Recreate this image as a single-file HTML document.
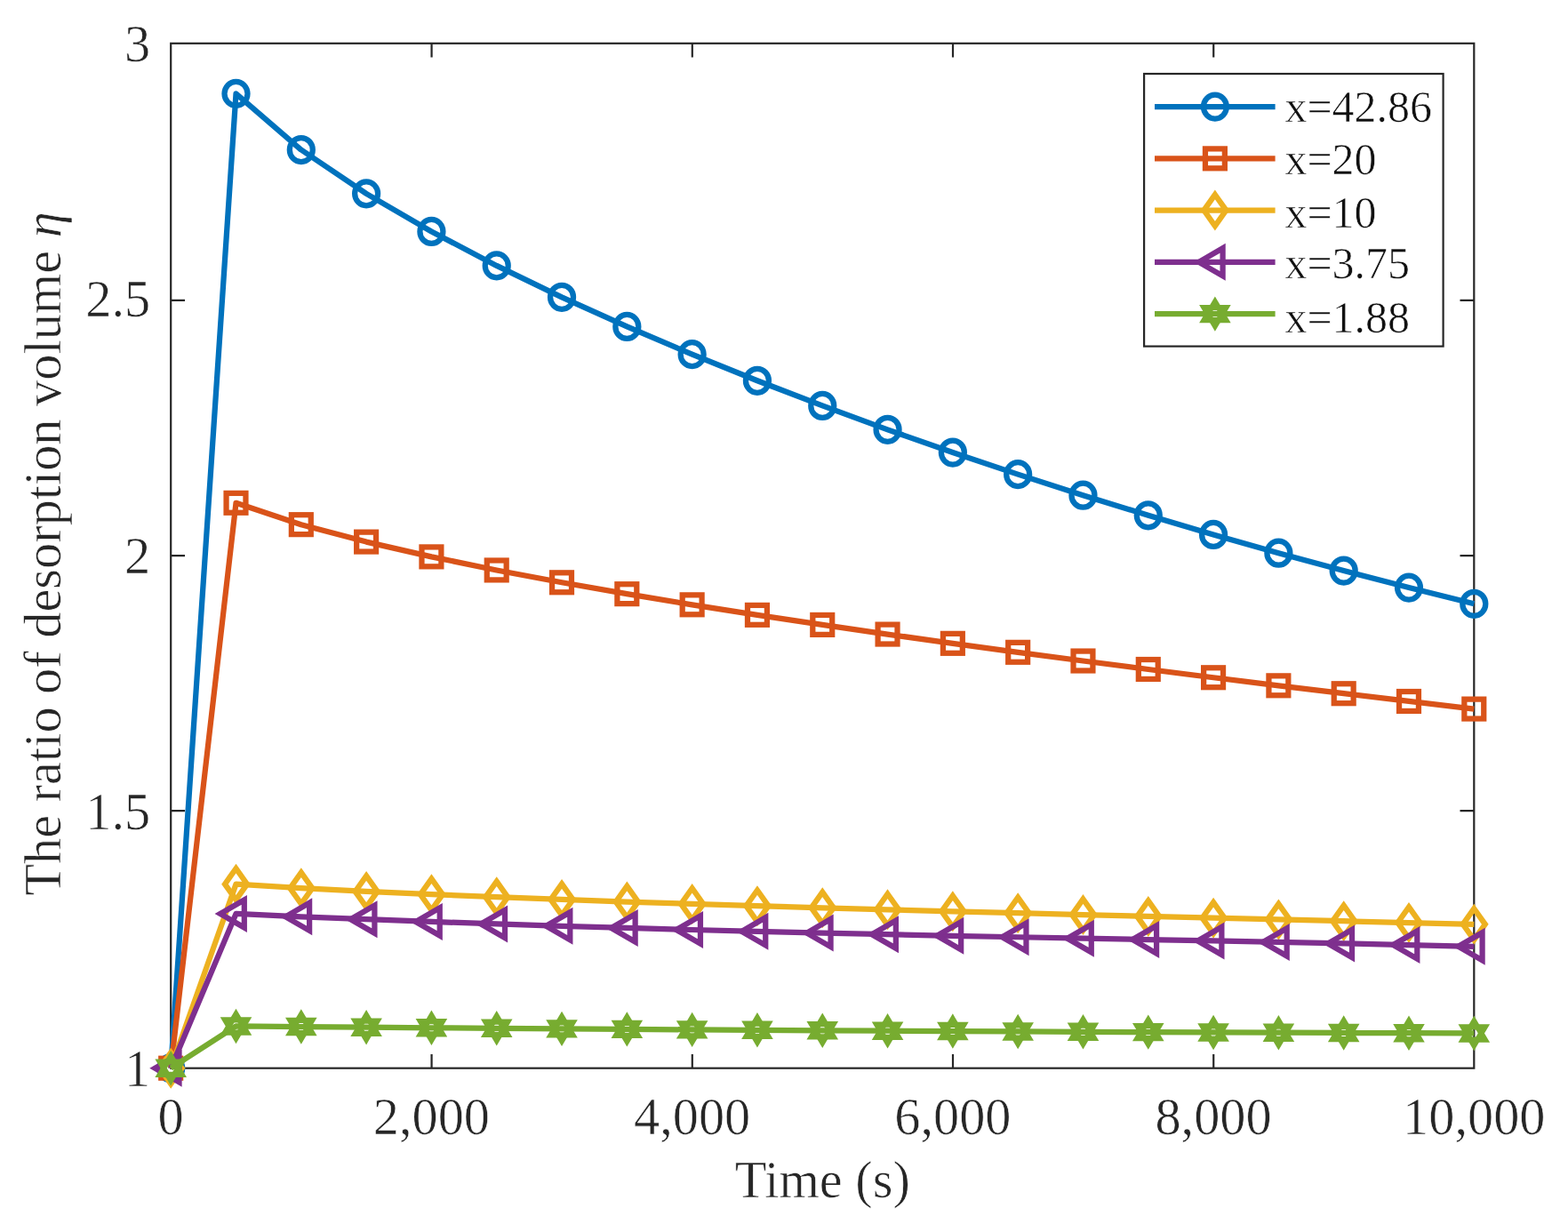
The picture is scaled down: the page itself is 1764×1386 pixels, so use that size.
<!DOCTYPE html>
<html lang="en"><head><meta charset="utf-8"><title>The ratio of desorption volume vs. time</title>
<style>html,body{margin:0;padding:0;background:#fff}body{width:1764px;height:1386px;overflow:hidden}svg{display:block}text{font-family:"Liberation Serif","Times New Roman",Times,serif;fill:#262626;stroke:#fff;stroke-width:.6px;paint-order:fill stroke;stroke-linejoin:round}.t{font-size:58.33px}.l{font-size:50.00px;fill:#111}</style></head><body>
<svg width="1764" height="1386" viewBox="0 0 1764 1386" role="img" aria-label="Line chart: the ratio of desorption volume versus time for five values of x">
<rect width="1764" height="1386" fill="#fff"/>
<g stroke="#262626" stroke-width="2.20" fill="none" stroke-linecap="square">
<rect x="192.20" y="48.80" width="1466.10" height="1152.90" stroke-linecap="butt"/>
<path stroke-linecap="butt" d="M485.57 1201.70v-15.80M485.57 48.80v15.80M778.79 1201.70v-15.80M778.79 48.80v15.80M1072.01 1201.70v-15.80M1072.01 48.80v15.80M1365.23 1201.70v-15.80M1365.23 48.80v15.80M192.20 912.20h15.80M1658.30 912.20h-15.80M192.20 625.10h15.80M1658.30 625.10h-15.80M192.20 337.90h15.80M1658.30 337.90h-15.80"/>
</g>
<g class="t" text-anchor="middle">
<text x="192.20" y="1275.90">0</text>
<text x="485.42" y="1275.90">2,000</text>
<text x="778.64" y="1275.90">4,000</text>
<text x="1071.86" y="1275.90">6,000</text>
<text x="1365.08" y="1275.90">8,000</text>
<text x="1658.30" y="1275.90">10,000</text>
</g>
<g class="t" text-anchor="end">
<text x="169.20" y="1222.10">1</text>
<text x="169.20" y="932.78">1.5</text>
<text x="169.20" y="645.35">2</text>
<text x="169.20" y="355.82">2.5</text>
<text x="169.20" y="68.50">3</text>
</g>
<text class="t" text-anchor="middle" x="925.25" y="1347.00">Time (s)</text>
<text class="t" text-anchor="middle" transform="translate(67.50 623.00) rotate(-90)">The ratio of desorption volume <tspan font-style="italic">η</tspan></text>
<g>
<polyline points="192.20,1201.70 265.50,105.37 338.81,168.51 412.11,217.87 485.42,260.49 558.72,298.90 632.03,334.32 705.34,367.43 778.64,398.65 851.94,428.26 925.25,456.44 998.55,483.33 1071.86,509.04 1145.16,533.65 1218.47,557.22 1291.78,579.81 1365.08,601.45 1438.38,622.19 1511.69,642.06 1584.99,661.09 1658.30,679.30" fill="none" stroke="#0072BD" stroke-width="6.25" stroke-linejoin="round" stroke-linecap="butt"/>
<ellipse cx="192.20" cy="1201.70" rx="13.0" ry="13.5" fill="none" stroke="#0072BD" stroke-width="6.25" stroke-linejoin="miter"/>
<ellipse cx="265.50" cy="105.37" rx="13.0" ry="13.5" fill="none" stroke="#0072BD" stroke-width="6.25" stroke-linejoin="miter"/>
<ellipse cx="338.81" cy="168.51" rx="13.0" ry="13.5" fill="none" stroke="#0072BD" stroke-width="6.25" stroke-linejoin="miter"/>
<ellipse cx="412.11" cy="217.87" rx="13.0" ry="13.5" fill="none" stroke="#0072BD" stroke-width="6.25" stroke-linejoin="miter"/>
<ellipse cx="485.42" cy="260.49" rx="13.0" ry="13.5" fill="none" stroke="#0072BD" stroke-width="6.25" stroke-linejoin="miter"/>
<ellipse cx="558.72" cy="298.90" rx="13.0" ry="13.5" fill="none" stroke="#0072BD" stroke-width="6.25" stroke-linejoin="miter"/>
<ellipse cx="632.03" cy="334.32" rx="13.0" ry="13.5" fill="none" stroke="#0072BD" stroke-width="6.25" stroke-linejoin="miter"/>
<ellipse cx="705.34" cy="367.43" rx="13.0" ry="13.5" fill="none" stroke="#0072BD" stroke-width="6.25" stroke-linejoin="miter"/>
<ellipse cx="778.64" cy="398.65" rx="13.0" ry="13.5" fill="none" stroke="#0072BD" stroke-width="6.25" stroke-linejoin="miter"/>
<ellipse cx="851.94" cy="428.26" rx="13.0" ry="13.5" fill="none" stroke="#0072BD" stroke-width="6.25" stroke-linejoin="miter"/>
<ellipse cx="925.25" cy="456.44" rx="13.0" ry="13.5" fill="none" stroke="#0072BD" stroke-width="6.25" stroke-linejoin="miter"/>
<ellipse cx="998.55" cy="483.33" rx="13.0" ry="13.5" fill="none" stroke="#0072BD" stroke-width="6.25" stroke-linejoin="miter"/>
<ellipse cx="1071.86" cy="509.04" rx="13.0" ry="13.5" fill="none" stroke="#0072BD" stroke-width="6.25" stroke-linejoin="miter"/>
<ellipse cx="1145.16" cy="533.65" rx="13.0" ry="13.5" fill="none" stroke="#0072BD" stroke-width="6.25" stroke-linejoin="miter"/>
<ellipse cx="1218.47" cy="557.22" rx="13.0" ry="13.5" fill="none" stroke="#0072BD" stroke-width="6.25" stroke-linejoin="miter"/>
<ellipse cx="1291.78" cy="579.81" rx="13.0" ry="13.5" fill="none" stroke="#0072BD" stroke-width="6.25" stroke-linejoin="miter"/>
<ellipse cx="1365.08" cy="601.45" rx="13.0" ry="13.5" fill="none" stroke="#0072BD" stroke-width="6.25" stroke-linejoin="miter"/>
<ellipse cx="1438.38" cy="622.19" rx="13.0" ry="13.5" fill="none" stroke="#0072BD" stroke-width="6.25" stroke-linejoin="miter"/>
<ellipse cx="1511.69" cy="642.06" rx="13.0" ry="13.5" fill="none" stroke="#0072BD" stroke-width="6.25" stroke-linejoin="miter"/>
<ellipse cx="1584.99" cy="661.09" rx="13.0" ry="13.5" fill="none" stroke="#0072BD" stroke-width="6.25" stroke-linejoin="miter"/>
<ellipse cx="1658.30" cy="679.30" rx="13.0" ry="13.5" fill="none" stroke="#0072BD" stroke-width="6.25" stroke-linejoin="miter"/>
</g>
<g>
<polyline points="192.20,1201.70 265.50,565.80 338.81,590.17 412.11,609.60 485.42,626.38 558.72,641.45 632.03,655.28 705.34,668.17 778.64,680.32 851.94,691.87 925.25,702.93 998.55,713.56 1071.86,723.84 1145.16,733.82 1218.47,743.52 1291.78,752.98 1365.08,762.24 1438.38,771.31 1511.69,780.22 1584.99,788.97 1658.30,797.58" fill="none" stroke="#D95319" stroke-width="6.25" stroke-linejoin="round" stroke-linecap="butt"/>
<rect x="181.25" y="1190.75" width="21.90" height="21.90" fill="none" stroke="#D95319" stroke-width="6.25" stroke-linejoin="miter"/>
<rect x="254.56" y="554.85" width="21.90" height="21.90" fill="none" stroke="#D95319" stroke-width="6.25" stroke-linejoin="miter"/>
<rect x="327.86" y="579.22" width="21.90" height="21.90" fill="none" stroke="#D95319" stroke-width="6.25" stroke-linejoin="miter"/>
<rect x="401.16" y="598.65" width="21.90" height="21.90" fill="none" stroke="#D95319" stroke-width="6.25" stroke-linejoin="miter"/>
<rect x="474.47" y="615.43" width="21.90" height="21.90" fill="none" stroke="#D95319" stroke-width="6.25" stroke-linejoin="miter"/>
<rect x="547.77" y="630.50" width="21.90" height="21.90" fill="none" stroke="#D95319" stroke-width="6.25" stroke-linejoin="miter"/>
<rect x="621.08" y="644.33" width="21.90" height="21.90" fill="none" stroke="#D95319" stroke-width="6.25" stroke-linejoin="miter"/>
<rect x="694.38" y="657.22" width="21.90" height="21.90" fill="none" stroke="#D95319" stroke-width="6.25" stroke-linejoin="miter"/>
<rect x="767.69" y="669.37" width="21.90" height="21.90" fill="none" stroke="#D95319" stroke-width="6.25" stroke-linejoin="miter"/>
<rect x="840.99" y="680.92" width="21.90" height="21.90" fill="none" stroke="#D95319" stroke-width="6.25" stroke-linejoin="miter"/>
<rect x="914.30" y="691.98" width="21.90" height="21.90" fill="none" stroke="#D95319" stroke-width="6.25" stroke-linejoin="miter"/>
<rect x="987.60" y="702.61" width="21.90" height="21.90" fill="none" stroke="#D95319" stroke-width="6.25" stroke-linejoin="miter"/>
<rect x="1060.91" y="712.89" width="21.90" height="21.90" fill="none" stroke="#D95319" stroke-width="6.25" stroke-linejoin="miter"/>
<rect x="1134.21" y="722.87" width="21.90" height="21.90" fill="none" stroke="#D95319" stroke-width="6.25" stroke-linejoin="miter"/>
<rect x="1207.52" y="732.57" width="21.90" height="21.90" fill="none" stroke="#D95319" stroke-width="6.25" stroke-linejoin="miter"/>
<rect x="1280.83" y="742.03" width="21.90" height="21.90" fill="none" stroke="#D95319" stroke-width="6.25" stroke-linejoin="miter"/>
<rect x="1354.13" y="751.29" width="21.90" height="21.90" fill="none" stroke="#D95319" stroke-width="6.25" stroke-linejoin="miter"/>
<rect x="1427.43" y="760.36" width="21.90" height="21.90" fill="none" stroke="#D95319" stroke-width="6.25" stroke-linejoin="miter"/>
<rect x="1500.74" y="769.27" width="21.90" height="21.90" fill="none" stroke="#D95319" stroke-width="6.25" stroke-linejoin="miter"/>
<rect x="1574.04" y="778.02" width="21.90" height="21.90" fill="none" stroke="#D95319" stroke-width="6.25" stroke-linejoin="miter"/>
<rect x="1647.35" y="786.63" width="21.90" height="21.90" fill="none" stroke="#D95319" stroke-width="6.25" stroke-linejoin="miter"/>
</g>
<g>
<polyline points="192.20,1201.70 265.50,994.65 338.81,999.19 412.11,1002.93 485.42,1006.24 558.72,1009.24 632.03,1011.99 705.34,1014.53 778.64,1016.90 851.94,1019.14 925.25,1021.27 998.55,1023.32 1071.86,1025.30 1145.16,1027.23 1218.47,1029.10 1291.78,1030.92 1365.08,1032.71 1438.38,1034.47 1511.69,1036.23 1584.99,1038.01 1658.30,1039.82" fill="none" stroke="#EDB120" stroke-width="6.25" stroke-linejoin="round" stroke-linecap="butt"/>
<polygon points="192.20,1184.10 204.70,1201.70 192.20,1219.30 179.70,1201.70" fill="none" stroke="#EDB120" stroke-width="6.25" stroke-linejoin="miter"/>
<polygon points="265.50,977.05 278.00,994.65 265.50,1012.25 253.00,994.65" fill="none" stroke="#EDB120" stroke-width="6.25" stroke-linejoin="miter"/>
<polygon points="338.81,981.59 351.31,999.19 338.81,1016.79 326.31,999.19" fill="none" stroke="#EDB120" stroke-width="6.25" stroke-linejoin="miter"/>
<polygon points="412.11,985.33 424.61,1002.93 412.11,1020.53 399.61,1002.93" fill="none" stroke="#EDB120" stroke-width="6.25" stroke-linejoin="miter"/>
<polygon points="485.42,988.64 497.92,1006.24 485.42,1023.84 472.92,1006.24" fill="none" stroke="#EDB120" stroke-width="6.25" stroke-linejoin="miter"/>
<polygon points="558.72,991.64 571.22,1009.24 558.72,1026.84 546.22,1009.24" fill="none" stroke="#EDB120" stroke-width="6.25" stroke-linejoin="miter"/>
<polygon points="632.03,994.39 644.53,1011.99 632.03,1029.59 619.53,1011.99" fill="none" stroke="#EDB120" stroke-width="6.25" stroke-linejoin="miter"/>
<polygon points="705.34,996.93 717.84,1014.53 705.34,1032.13 692.84,1014.53" fill="none" stroke="#EDB120" stroke-width="6.25" stroke-linejoin="miter"/>
<polygon points="778.64,999.30 791.14,1016.90 778.64,1034.50 766.14,1016.90" fill="none" stroke="#EDB120" stroke-width="6.25" stroke-linejoin="miter"/>
<polygon points="851.94,1001.54 864.44,1019.14 851.94,1036.74 839.44,1019.14" fill="none" stroke="#EDB120" stroke-width="6.25" stroke-linejoin="miter"/>
<polygon points="925.25,1003.67 937.75,1021.27 925.25,1038.87 912.75,1021.27" fill="none" stroke="#EDB120" stroke-width="6.25" stroke-linejoin="miter"/>
<polygon points="998.55,1005.72 1011.05,1023.32 998.55,1040.92 986.05,1023.32" fill="none" stroke="#EDB120" stroke-width="6.25" stroke-linejoin="miter"/>
<polygon points="1071.86,1007.70 1084.36,1025.30 1071.86,1042.90 1059.36,1025.30" fill="none" stroke="#EDB120" stroke-width="6.25" stroke-linejoin="miter"/>
<polygon points="1145.16,1009.63 1157.66,1027.23 1145.16,1044.83 1132.66,1027.23" fill="none" stroke="#EDB120" stroke-width="6.25" stroke-linejoin="miter"/>
<polygon points="1218.47,1011.50 1230.97,1029.10 1218.47,1046.70 1205.97,1029.10" fill="none" stroke="#EDB120" stroke-width="6.25" stroke-linejoin="miter"/>
<polygon points="1291.78,1013.32 1304.28,1030.92 1291.78,1048.52 1279.28,1030.92" fill="none" stroke="#EDB120" stroke-width="6.25" stroke-linejoin="miter"/>
<polygon points="1365.08,1015.11 1377.58,1032.71 1365.08,1050.31 1352.58,1032.71" fill="none" stroke="#EDB120" stroke-width="6.25" stroke-linejoin="miter"/>
<polygon points="1438.38,1016.87 1450.88,1034.47 1438.38,1052.07 1425.88,1034.47" fill="none" stroke="#EDB120" stroke-width="6.25" stroke-linejoin="miter"/>
<polygon points="1511.69,1018.63 1524.19,1036.23 1511.69,1053.83 1499.19,1036.23" fill="none" stroke="#EDB120" stroke-width="6.25" stroke-linejoin="miter"/>
<polygon points="1584.99,1020.41 1597.49,1038.01 1584.99,1055.61 1572.49,1038.01" fill="none" stroke="#EDB120" stroke-width="6.25" stroke-linejoin="miter"/>
<polygon points="1658.30,1022.22 1670.80,1039.82 1658.30,1057.42 1645.80,1039.82" fill="none" stroke="#EDB120" stroke-width="6.25" stroke-linejoin="miter"/>
</g>
<g>
<polyline points="192.20,1201.70 265.50,1027.98 338.81,1031.36 412.11,1034.23 485.42,1036.92 558.72,1039.45 632.03,1041.81 705.34,1043.99 778.64,1046.00 851.94,1047.86 925.25,1049.59 998.55,1051.22 1071.86,1052.77 1145.16,1054.25 1218.47,1055.68 1291.78,1057.08 1365.08,1058.47 1438.38,1059.90 1511.69,1061.40 1584.99,1063.02 1658.30,1064.81" fill="none" stroke="#7E2F8E" stroke-width="6.25" stroke-linejoin="round" stroke-linecap="butt"/>
<polygon points="174.50,1201.70 201.50,1186.11 201.50,1217.29" fill="none" stroke="#7E2F8E" stroke-width="6.25" stroke-linejoin="miter"/>
<polygon points="247.81,1027.98 274.81,1012.39 274.81,1043.57" fill="none" stroke="#7E2F8E" stroke-width="6.25" stroke-linejoin="miter"/>
<polygon points="321.11,1031.36 348.11,1015.77 348.11,1046.95" fill="none" stroke="#7E2F8E" stroke-width="6.25" stroke-linejoin="miter"/>
<polygon points="394.41,1034.23 421.41,1018.64 421.41,1049.82" fill="none" stroke="#7E2F8E" stroke-width="6.25" stroke-linejoin="miter"/>
<polygon points="467.72,1036.92 494.72,1021.33 494.72,1052.51" fill="none" stroke="#7E2F8E" stroke-width="6.25" stroke-linejoin="miter"/>
<polygon points="541.02,1039.45 568.02,1023.86 568.02,1055.04" fill="none" stroke="#7E2F8E" stroke-width="6.25" stroke-linejoin="miter"/>
<polygon points="614.33,1041.81 641.33,1026.22 641.33,1057.39" fill="none" stroke="#7E2F8E" stroke-width="6.25" stroke-linejoin="miter"/>
<polygon points="687.63,1043.99 714.63,1028.40 714.63,1059.57" fill="none" stroke="#7E2F8E" stroke-width="6.25" stroke-linejoin="miter"/>
<polygon points="760.94,1046.00 787.94,1030.41 787.94,1061.59" fill="none" stroke="#7E2F8E" stroke-width="6.25" stroke-linejoin="miter"/>
<polygon points="834.24,1047.86 861.24,1032.27 861.24,1063.45" fill="none" stroke="#7E2F8E" stroke-width="6.25" stroke-linejoin="miter"/>
<polygon points="907.55,1049.59 934.55,1034.00 934.55,1065.18" fill="none" stroke="#7E2F8E" stroke-width="6.25" stroke-linejoin="miter"/>
<polygon points="980.85,1051.22 1007.85,1035.64 1007.85,1066.81" fill="none" stroke="#7E2F8E" stroke-width="6.25" stroke-linejoin="miter"/>
<polygon points="1054.16,1052.77 1081.16,1037.18 1081.16,1068.36" fill="none" stroke="#7E2F8E" stroke-width="6.25" stroke-linejoin="miter"/>
<polygon points="1127.46,1054.25 1154.46,1038.66 1154.46,1069.84" fill="none" stroke="#7E2F8E" stroke-width="6.25" stroke-linejoin="miter"/>
<polygon points="1200.77,1055.68 1227.77,1040.09 1227.77,1071.27" fill="none" stroke="#7E2F8E" stroke-width="6.25" stroke-linejoin="miter"/>
<polygon points="1274.08,1057.08 1301.08,1041.49 1301.08,1072.66" fill="none" stroke="#7E2F8E" stroke-width="6.25" stroke-linejoin="miter"/>
<polygon points="1347.38,1058.47 1374.38,1042.88 1374.38,1074.06" fill="none" stroke="#7E2F8E" stroke-width="6.25" stroke-linejoin="miter"/>
<polygon points="1420.68,1059.90 1447.68,1044.31 1447.68,1075.49" fill="none" stroke="#7E2F8E" stroke-width="6.25" stroke-linejoin="miter"/>
<polygon points="1493.99,1061.40 1520.99,1045.81 1520.99,1076.99" fill="none" stroke="#7E2F8E" stroke-width="6.25" stroke-linejoin="miter"/>
<polygon points="1567.29,1063.02 1594.29,1047.43 1594.29,1078.61" fill="none" stroke="#7E2F8E" stroke-width="6.25" stroke-linejoin="miter"/>
<polygon points="1640.60,1064.81 1667.60,1049.22 1667.60,1080.40" fill="none" stroke="#7E2F8E" stroke-width="6.25" stroke-linejoin="miter"/>
</g>
<g>
<polyline points="192.20,1201.70 265.50,1154.44 338.81,1155.07 412.11,1155.67 485.42,1156.26 558.72,1156.82 632.03,1157.35 705.34,1157.86 778.64,1158.35 851.94,1158.82 925.25,1159.26 998.55,1159.68 1071.86,1160.08 1145.16,1160.46 1218.47,1160.81 1291.78,1161.13 1365.08,1161.44 1438.38,1161.72 1511.69,1161.97 1584.99,1162.21 1658.30,1162.42" fill="none" stroke="#77AC30" stroke-width="6.25" stroke-linejoin="round" stroke-linecap="butt"/>
<polygon points="192.20,1188.10 204.50,1208.80 179.90,1208.80" fill="none" stroke="#77AC30" stroke-width="6.25" stroke-linejoin="miter"/><polygon points="192.20,1215.30 204.50,1194.60 179.90,1194.60" fill="none" stroke="#77AC30" stroke-width="6.25" stroke-linejoin="miter"/>
<polygon points="265.50,1140.84 277.80,1161.54 253.21,1161.54" fill="none" stroke="#77AC30" stroke-width="6.25" stroke-linejoin="miter"/><polygon points="265.50,1168.04 277.80,1147.34 253.21,1147.34" fill="none" stroke="#77AC30" stroke-width="6.25" stroke-linejoin="miter"/>
<polygon points="338.81,1141.47 351.11,1162.17 326.51,1162.17" fill="none" stroke="#77AC30" stroke-width="6.25" stroke-linejoin="miter"/><polygon points="338.81,1168.67 351.11,1147.97 326.51,1147.97" fill="none" stroke="#77AC30" stroke-width="6.25" stroke-linejoin="miter"/>
<polygon points="412.11,1142.07 424.41,1162.77 399.82,1162.77" fill="none" stroke="#77AC30" stroke-width="6.25" stroke-linejoin="miter"/><polygon points="412.11,1169.27 424.41,1148.57 399.82,1148.57" fill="none" stroke="#77AC30" stroke-width="6.25" stroke-linejoin="miter"/>
<polygon points="485.42,1142.66 497.72,1163.36 473.12,1163.36" fill="none" stroke="#77AC30" stroke-width="6.25" stroke-linejoin="miter"/><polygon points="485.42,1169.86 497.72,1149.16 473.12,1149.16" fill="none" stroke="#77AC30" stroke-width="6.25" stroke-linejoin="miter"/>
<polygon points="558.72,1143.22 571.02,1163.92 546.43,1163.92" fill="none" stroke="#77AC30" stroke-width="6.25" stroke-linejoin="miter"/><polygon points="558.72,1170.42 571.02,1149.72 546.43,1149.72" fill="none" stroke="#77AC30" stroke-width="6.25" stroke-linejoin="miter"/>
<polygon points="632.03,1143.75 644.33,1164.45 619.73,1164.45" fill="none" stroke="#77AC30" stroke-width="6.25" stroke-linejoin="miter"/><polygon points="632.03,1170.95 644.33,1150.25 619.73,1150.25" fill="none" stroke="#77AC30" stroke-width="6.25" stroke-linejoin="miter"/>
<polygon points="705.34,1144.26 717.63,1164.96 693.04,1164.96" fill="none" stroke="#77AC30" stroke-width="6.25" stroke-linejoin="miter"/><polygon points="705.34,1171.46 717.63,1150.76 693.04,1150.76" fill="none" stroke="#77AC30" stroke-width="6.25" stroke-linejoin="miter"/>
<polygon points="778.64,1144.75 790.94,1165.45 766.34,1165.45" fill="none" stroke="#77AC30" stroke-width="6.25" stroke-linejoin="miter"/><polygon points="778.64,1171.95 790.94,1151.25 766.34,1151.25" fill="none" stroke="#77AC30" stroke-width="6.25" stroke-linejoin="miter"/>
<polygon points="851.94,1145.22 864.24,1165.92 839.65,1165.92" fill="none" stroke="#77AC30" stroke-width="6.25" stroke-linejoin="miter"/><polygon points="851.94,1172.42 864.24,1151.72 839.65,1151.72" fill="none" stroke="#77AC30" stroke-width="6.25" stroke-linejoin="miter"/>
<polygon points="925.25,1145.66 937.55,1166.36 912.95,1166.36" fill="none" stroke="#77AC30" stroke-width="6.25" stroke-linejoin="miter"/><polygon points="925.25,1172.86 937.55,1152.16 912.95,1152.16" fill="none" stroke="#77AC30" stroke-width="6.25" stroke-linejoin="miter"/>
<polygon points="998.55,1146.08 1010.85,1166.78 986.26,1166.78" fill="none" stroke="#77AC30" stroke-width="6.25" stroke-linejoin="miter"/><polygon points="998.55,1173.28 1010.85,1152.58 986.26,1152.58" fill="none" stroke="#77AC30" stroke-width="6.25" stroke-linejoin="miter"/>
<polygon points="1071.86,1146.48 1084.16,1167.18 1059.56,1167.18" fill="none" stroke="#77AC30" stroke-width="6.25" stroke-linejoin="miter"/><polygon points="1071.86,1173.68 1084.16,1152.98 1059.56,1152.98" fill="none" stroke="#77AC30" stroke-width="6.25" stroke-linejoin="miter"/>
<polygon points="1145.16,1146.86 1157.46,1167.56 1132.87,1167.56" fill="none" stroke="#77AC30" stroke-width="6.25" stroke-linejoin="miter"/><polygon points="1145.16,1174.06 1157.46,1153.36 1132.87,1153.36" fill="none" stroke="#77AC30" stroke-width="6.25" stroke-linejoin="miter"/>
<polygon points="1218.47,1147.21 1230.77,1167.91 1206.17,1167.91" fill="none" stroke="#77AC30" stroke-width="6.25" stroke-linejoin="miter"/><polygon points="1218.47,1174.41 1230.77,1153.71 1206.17,1153.71" fill="none" stroke="#77AC30" stroke-width="6.25" stroke-linejoin="miter"/>
<polygon points="1291.78,1147.53 1304.07,1168.23 1279.48,1168.23" fill="none" stroke="#77AC30" stroke-width="6.25" stroke-linejoin="miter"/><polygon points="1291.78,1174.73 1304.07,1154.03 1279.48,1154.03" fill="none" stroke="#77AC30" stroke-width="6.25" stroke-linejoin="miter"/>
<polygon points="1365.08,1147.84 1377.38,1168.54 1352.78,1168.54" fill="none" stroke="#77AC30" stroke-width="6.25" stroke-linejoin="miter"/><polygon points="1365.08,1175.04 1377.38,1154.34 1352.78,1154.34" fill="none" stroke="#77AC30" stroke-width="6.25" stroke-linejoin="miter"/>
<polygon points="1438.38,1148.12 1450.68,1168.82 1426.09,1168.82" fill="none" stroke="#77AC30" stroke-width="6.25" stroke-linejoin="miter"/><polygon points="1438.38,1175.32 1450.68,1154.62 1426.09,1154.62" fill="none" stroke="#77AC30" stroke-width="6.25" stroke-linejoin="miter"/>
<polygon points="1511.69,1148.37 1523.99,1169.07 1499.39,1169.07" fill="none" stroke="#77AC30" stroke-width="6.25" stroke-linejoin="miter"/><polygon points="1511.69,1175.57 1523.99,1154.87 1499.39,1154.87" fill="none" stroke="#77AC30" stroke-width="6.25" stroke-linejoin="miter"/>
<polygon points="1584.99,1148.61 1597.29,1169.31 1572.70,1169.31" fill="none" stroke="#77AC30" stroke-width="6.25" stroke-linejoin="miter"/><polygon points="1584.99,1175.81 1597.29,1155.11 1572.70,1155.11" fill="none" stroke="#77AC30" stroke-width="6.25" stroke-linejoin="miter"/>
<polygon points="1658.30,1148.82 1670.60,1169.52 1646.00,1169.52" fill="none" stroke="#77AC30" stroke-width="6.25" stroke-linejoin="miter"/><polygon points="1658.30,1176.02 1670.60,1155.32 1646.00,1155.32" fill="none" stroke="#77AC30" stroke-width="6.25" stroke-linejoin="miter"/>
</g>
<rect x="1287.10" y="83.00" width="336.50" height="306.60" fill="#fff" stroke="#262626" stroke-width="2.20"/>
<line x1="1299" y1="120.10" x2="1434.6" y2="120.10" stroke="#0072BD" stroke-width="6.25"/>
<ellipse cx="1366.90" cy="120.10" rx="13.0" ry="13.5" fill="none" stroke="#0072BD" stroke-width="6.25" stroke-linejoin="miter"/>
<text class="l" x="1445.4" y="137.40">x=42.86</text>
<line x1="1299" y1="178.35" x2="1434.6" y2="178.35" stroke="#D95319" stroke-width="6.25"/>
<rect x="1355.95" y="167.40" width="21.90" height="21.90" fill="none" stroke="#D95319" stroke-width="6.25" stroke-linejoin="miter"/>
<text class="l" x="1445.4" y="195.50">x=20</text>
<line x1="1299" y1="236.60" x2="1434.6" y2="236.60" stroke="#EDB120" stroke-width="6.25"/>
<polygon points="1366.90,219.00 1379.40,236.60 1366.90,254.20 1354.40,236.60" fill="none" stroke="#EDB120" stroke-width="6.25" stroke-linejoin="miter"/>
<text class="l" x="1445.4" y="256.30">x=10</text>
<line x1="1299" y1="294.85" x2="1434.6" y2="294.85" stroke="#7E2F8E" stroke-width="6.25"/>
<polygon points="1348.60,294.85 1375.60,279.26 1375.60,310.44" fill="none" stroke="#7E2F8E" stroke-width="6.25" stroke-linejoin="miter"/>
<text class="l" x="1445.4" y="313.20">x=3.75</text>
<line x1="1299" y1="353.10" x2="1434.6" y2="353.10" stroke="#77AC30" stroke-width="6.25"/>
<polygon points="1366.90,339.50 1379.20,360.20 1354.60,360.20" fill="none" stroke="#77AC30" stroke-width="6.25" stroke-linejoin="miter"/><polygon points="1366.90,366.70 1379.20,346.00 1354.60,346.00" fill="none" stroke="#77AC30" stroke-width="6.25" stroke-linejoin="miter"/>
<text class="l" x="1445.4" y="374.20">x=1.88</text>
</svg></body></html>
